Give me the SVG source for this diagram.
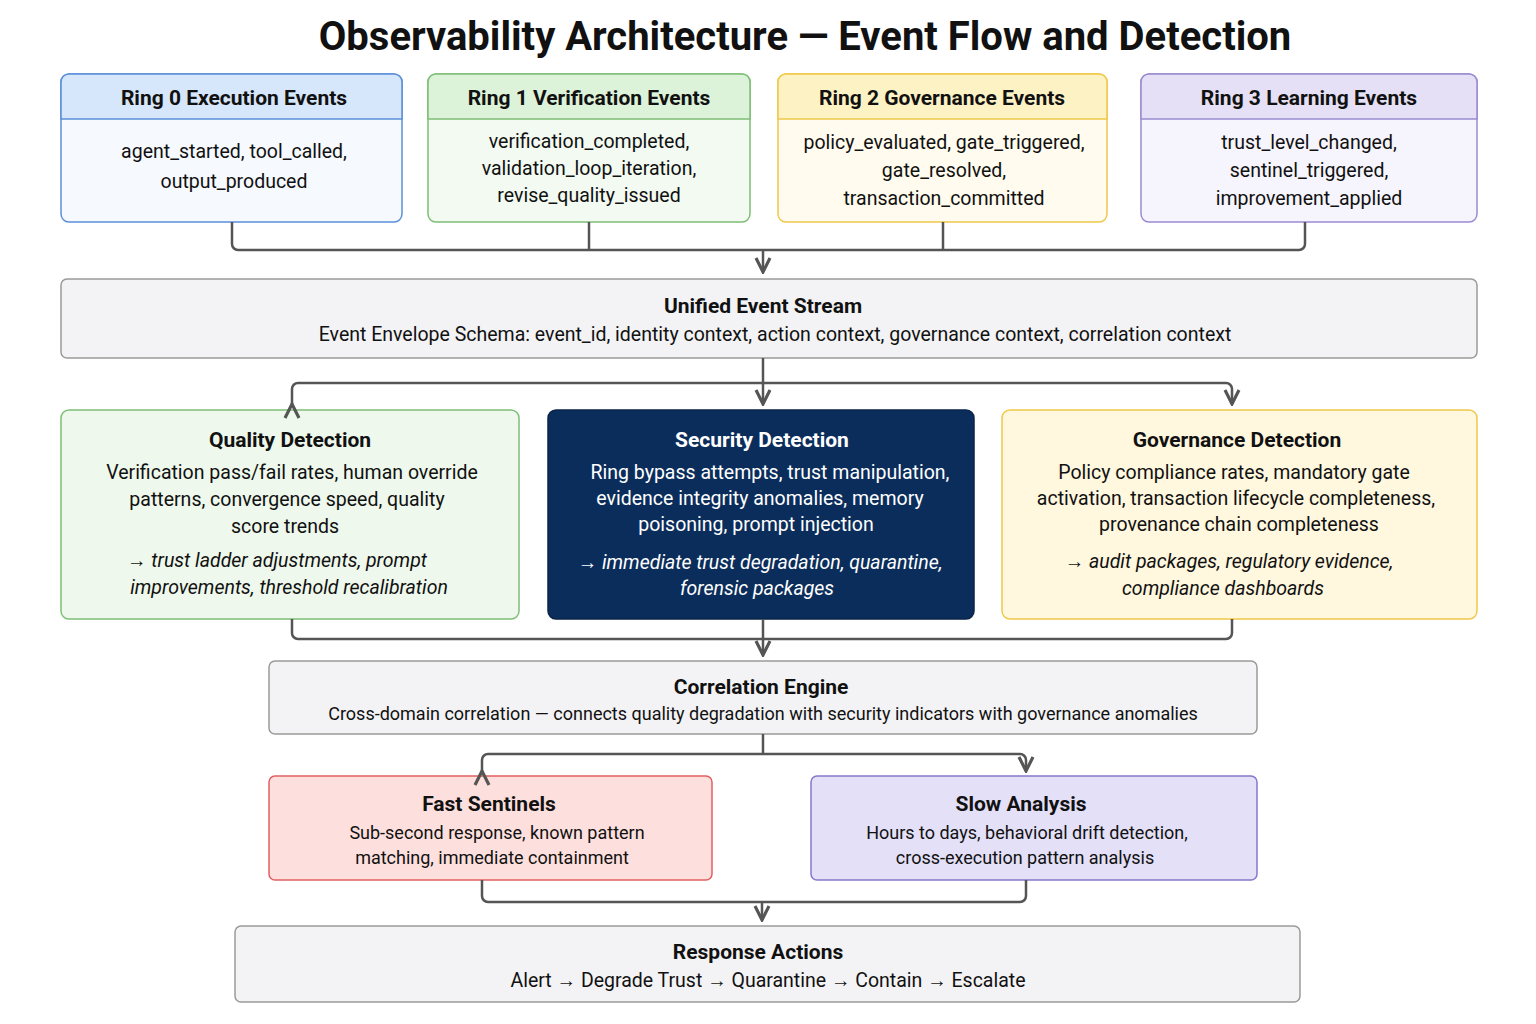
<svg xmlns="http://www.w3.org/2000/svg" width="1536" height="1024" viewBox="0 0 1536 1024">
<defs>
<marker id="ah" viewBox="0 0 10 10" refX="9" refY="5" markerWidth="7" markerHeight="7" orient="auto"><path d="M1,1 L9,5 L1,9" fill="none" stroke="#555" stroke-width="1.8"/></marker>
<style>
text{font-family:Roboto,"Noto Sans",sans-serif;text-anchor:middle;fill:#111}
.t{font-size:21px;font-weight:bold}
.b{font-size:19.5px}
.i{font-size:19.5px;font-style:italic}
.s{font-size:18px}
.w{fill:#fff}
.c{fill:none;stroke:#555;stroke-width:2.5}
</style>
</defs>
<rect width="1536" height="1024" fill="#fff"/>
<text x="805" y="50" style="font-size:40px;font-weight:bold">Observability Architecture — Event Flow and Detection</text>

<g id="ring0">
<rect x="61" y="74" width="341" height="148" rx="8" fill="#f6f9fe" stroke="#5b8fd9" stroke-width="1.5"/>
<path d="M61,119 V82 a8,8 0 0 1 8,-8 H394 a8,8 0 0 1 8,8 V119 Z" fill="#d6e6fb" stroke="#5b8fd9" stroke-width="1.5"/>
<text class="t" x="234" y="105">Ring 0 Execution Events</text>
<text class="b" x="234" y="158">agent_started, tool_called,</text>
<text class="b" x="234" y="188">output_produced</text>
</g>
<g id="ring1">
<rect x="428" y="74" width="322" height="148" rx="8" fill="#f3faf1" stroke="#7dbf76" stroke-width="1.5"/>
<path d="M428,119 V82 a8,8 0 0 1 8,-8 H742 a8,8 0 0 1 8,8 V119 Z" fill="#dcf2d9" stroke="#7dbf76" stroke-width="1.5"/>
<text class="t" x="589" y="105">Ring 1 Verification Events</text>
<text class="b" x="589" y="148">verification_completed,</text>
<text class="b" x="589" y="175">validation_loop_iteration,</text>
<text class="b" x="589" y="202">revise_quality_issued</text>
</g>
<g id="ring2">
<rect x="778" y="74" width="329" height="148" rx="8" fill="#fffbee" stroke="#f0c84a" stroke-width="1.5"/>
<path d="M778,119 V82 a8,8 0 0 1 8,-8 H1099 a8,8 0 0 1 8,8 V119 Z" fill="#fdf2c4" stroke="#f0c84a" stroke-width="1.5"/>
<text class="t" x="942" y="105">Ring 2 Governance Events</text>
<text class="b" x="944" y="149">policy_evaluated, gate_triggered,</text>
<text class="b" x="944" y="177">gate_resolved,</text>
<text class="b" x="944" y="205">transaction_committed</text>
</g>
<g id="ring3">
<rect x="1141" y="74" width="336" height="148" rx="8" fill="#f6f4fc" stroke="#9a8ad0" stroke-width="1.5"/>
<path d="M1141,119 V82 a8,8 0 0 1 8,-8 H1469 a8,8 0 0 1 8,8 V119 Z" fill="#e5e0f5" stroke="#9a8ad0" stroke-width="1.5"/>
<text class="t" x="1309" y="105">Ring 3 Learning Events</text>
<text class="b" x="1309" y="149">trust_level_changed,</text>
<text class="b" x="1309" y="177">sentinel_triggered,</text>
<text class="b" x="1309" y="205">improvement_applied</text>
</g>

<g id="unified">
<rect x="61" y="279" width="1416" height="79" rx="6" fill="#f3f3f5" stroke="#9a9a9a" stroke-width="1.5"/>
<text class="t" x="763" y="313">Unified Event Stream</text>
<text class="b" x="775" y="341">Event Envelope Schema: event_id, identity context, action context, governance context, correlation context</text>
</g>

<g id="quality">
<rect x="61" y="410" width="458" height="209" rx="8" fill="#eef8ec" stroke="#7dbf76" stroke-width="1.5"/>
<text class="t" x="290" y="447">Quality Detection</text>
<text class="b" x="292" y="479">Verification pass/fail rates, human override</text>
<text class="b" x="287" y="506">patterns, convergence speed, quality</text>
<text class="b" x="285" y="533">score trends</text>
<text class="i" x="277" y="567">→ trust ladder adjustments, prompt</text>
<text class="i" x="289" y="594">improvements, threshold recalibration</text>
</g>
<g id="security">
<rect x="548" y="410" width="426" height="209" rx="8" fill="#0b2d5b" stroke="#0a2448" stroke-width="1.5"/>
<text class="t w" x="762" y="447">Security Detection</text>
<text class="b w" x="770" y="479">Ring bypass attempts, trust manipulation,</text>
<text class="b w" x="760" y="505">evidence integrity anomalies, memory</text>
<text class="b w" x="756" y="531">poisoning, prompt injection</text>
<text class="i w" x="760" y="569">→ immediate trust degradation, quarantine,</text>
<text class="i w" x="757" y="595">forensic packages</text>
</g>
<g id="governance">
<rect x="1002" y="410" width="475" height="209" rx="8" fill="#fff7de" stroke="#f0c84a" stroke-width="1.5"/>
<text class="t" x="1237" y="447">Governance Detection</text>
<text class="b" x="1234" y="479">Policy compliance rates, mandatory gate</text>
<text class="b" x="1236" y="505">activation, transaction lifecycle completeness,</text>
<text class="b" x="1239" y="531">provenance chain completeness</text>
<text class="i" x="1229" y="568">→ audit packages, regulatory evidence,</text>
<text class="i" x="1223" y="595">compliance dashboards</text>
</g>

<g id="correlation">
<rect x="269" y="661" width="988" height="73" rx="6" fill="#f3f3f5" stroke="#9a9a9a" stroke-width="1.5"/>
<text class="t" x="761" y="694">Correlation Engine</text>
<text class="s" x="763" y="720">Cross-domain correlation — connects quality degradation with security indicators with governance anomalies</text>
</g>

<g id="fast">
<rect x="269" y="776" width="443" height="104" rx="6" fill="#fde0dd" stroke="#e06060" stroke-width="1.5"/>
<text class="t" x="489" y="811">Fast Sentinels</text>
<text class="s" x="497" y="839">Sub-second response, known pattern</text>
<text class="s" x="492" y="864">matching, immediate containment</text>
</g>
<g id="slow">
<rect x="811" y="776" width="446" height="104" rx="6" fill="#e3e0f7" stroke="#8878cc" stroke-width="1.5"/>
<text class="t" x="1021" y="811">Slow Analysis</text>
<text class="s" x="1027" y="839">Hours to days, behavioral drift detection,</text>
<text class="s" x="1025" y="864">cross-execution pattern analysis</text>
</g>

<g id="response">
<rect x="235" y="926" width="1065" height="76" rx="6" fill="#f3f3f5" stroke="#9a9a9a" stroke-width="1.5"/>
<text class="t" x="758" y="959">Response Actions</text>
<text class="b" x="768" y="987">Alert → Degrade Trust → Quarantine → Contain → Escalate</text>
</g>

<g id="connectors">
<path class="c" d="M232,222 V244 a6,6 0 0 0 6,6 H1299 a6,6 0 0 0 6,-6 V222"/>
<path class="c" d="M589,222 V250 M943,222 V250"/>
<path class="c" d="M763,250 V272" marker-end="url(#ah)"/>
<path class="c" d="M763,358 V383"/>
<path class="c" d="M292,404 V389 a6,6 0 0 1 6,-6 H1226 a6,6 0 0 1 6,6 V404" marker-end="url(#ah)" marker-start="url(#ah)"/>
<path class="c" d="M763,383 V404" marker-end="url(#ah)"/>
<path class="c" d="M292,619 V633 a6,6 0 0 0 6,6 H1226 a6,6 0 0 0 6,-6 V619"/>
<path class="c" d="M763,619 V655" marker-end="url(#ah)"/>
<path class="c" d="M763,734 V754"/>
<path class="c" d="M482,771 V760 a6,6 0 0 1 6,-6 H1020 a6,6 0 0 1 6,6 V771" marker-start="url(#ah)" marker-end="url(#ah)"/>
<path class="c" d="M482,880 V896 a6,6 0 0 0 6,6 H1020 a6,6 0 0 0 6,-6 V880"/>
<path class="c" d="M762,902 V920" marker-end="url(#ah)"/>
</g>
</svg>
